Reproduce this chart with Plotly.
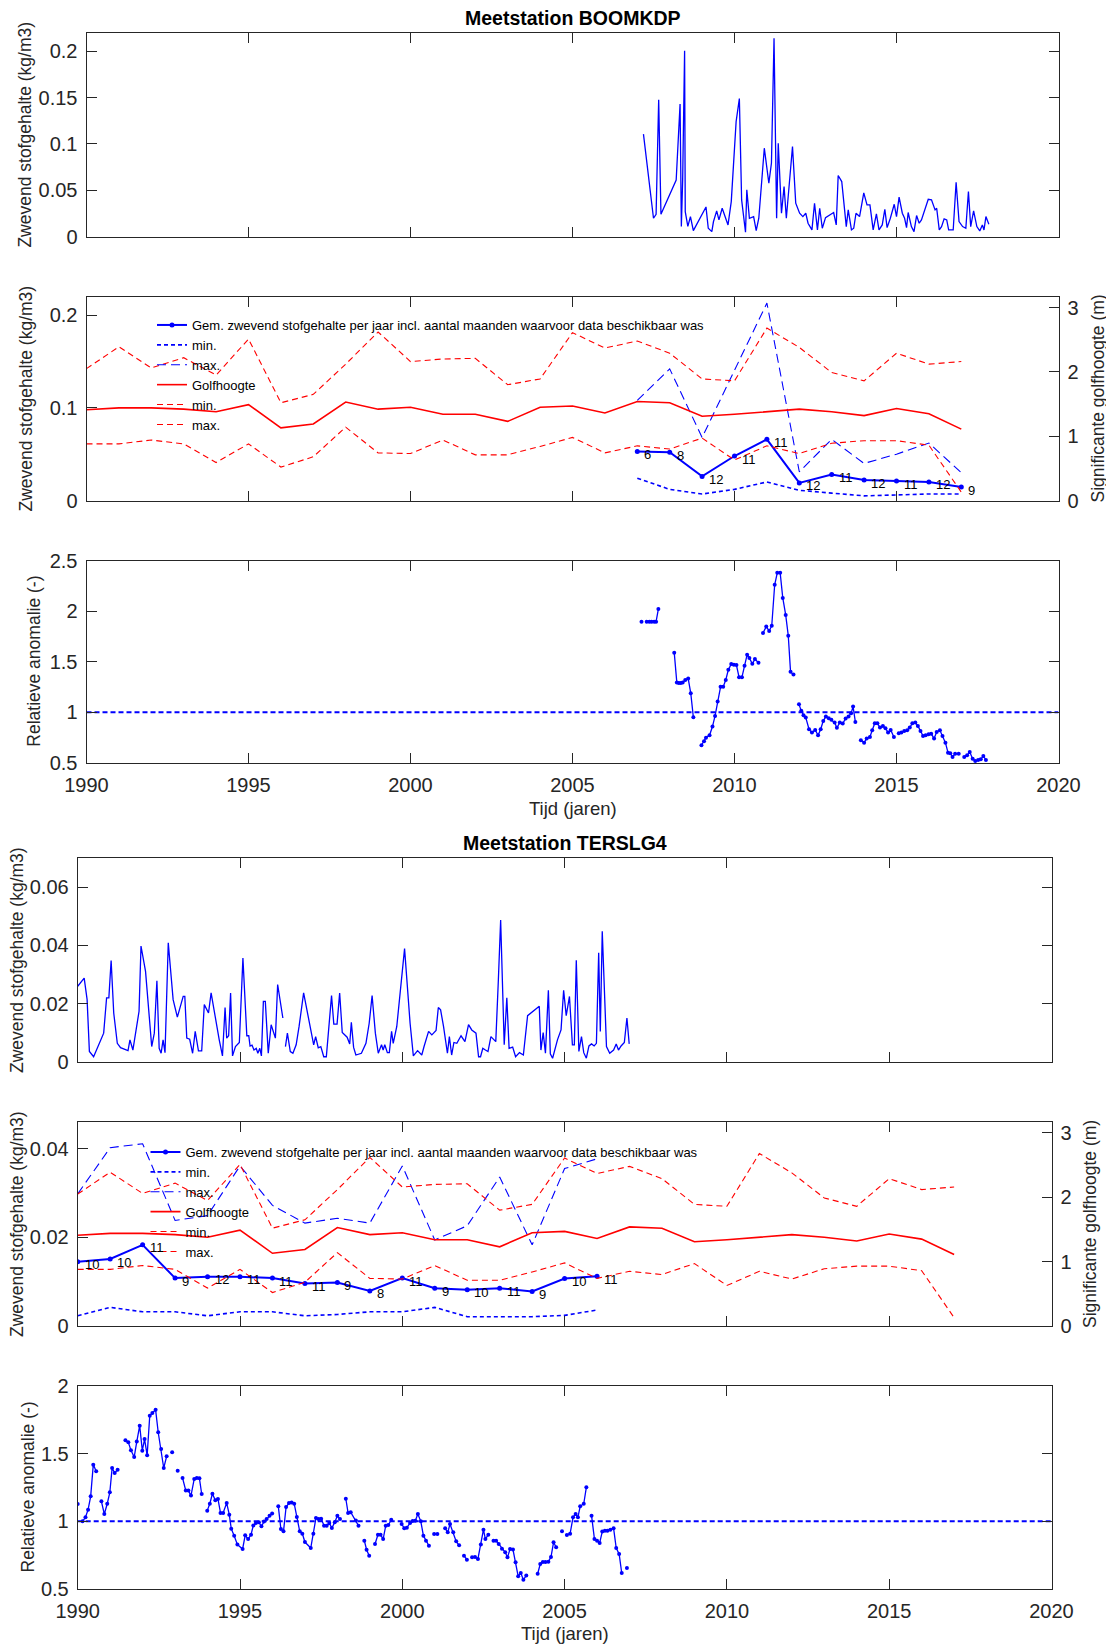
import plotly.graph_objects as go

# ---------------- DATA ----------------
# BOOMKDP: suspended sediment concentration (kg/m3), monthly
boom_ssc_t = [2007.19, 2007.50, 2007.58, 2007.66, 2007.73, 2008.20, 2008.32, 2008.36, 2008.40, 2008.46, 2008.48,
              2008.56, 2008.64, 2008.73, 2009.12, 2009.19, 2009.30, 2009.35, 2009.45, 2009.52, 2009.62, 2009.80,
              2009.90, 2010.05, 2010.15, 2010.22, 2010.34, 2010.38, 2010.46, 2010.59, 2010.67, 2010.75, 2010.92,
              2011.06, 2011.14, 2011.22, 2011.30, 2011.35, 2011.45, 2011.53, 2011.60, 2011.79, 2011.89, 2012.01,
              2012.11, 2012.20, 2012.27, 2012.39, 2012.47, 2012.56, 2012.63, 2012.71, 2012.81, 2012.94, 2013.06,
              2013.14, 2013.20, 2013.31, 2013.40, 2013.45, 2013.51, 2013.61, 2013.68, 2013.75, 2013.86, 2013.99,
              2014.09, 2014.18, 2014.28, 2014.38, 2014.46, 2014.56, 2014.64, 2014.71, 2014.81, 2014.93, 2015.00,
              2015.08, 2015.18, 2015.25, 2015.31, 2015.36, 2015.46, 2015.54, 2015.62, 2015.70, 2015.77, 2015.87,
              2015.98, 2016.08, 2016.19, 2016.24, 2016.32, 2016.39, 2016.47, 2016.55, 2016.61, 2016.75, 2016.84,
              2016.93, 2017.04, 2017.14, 2017.22, 2017.29, 2017.38, 2017.48, 2017.57, 2017.65, 2017.70, 2017.76,
              2017.85]
boom_ssc_v = [0.1105, 0.0198, 0.0240, 0.1476, 0.0240, 0.0610, 0.1430, 0.0110, 0.0610, 0.2006, 0.0270,
              0.0110, 0.0216, 0.0065, 0.0320, 0.0090, 0.0054, 0.0160, 0.0277, 0.0180, 0.0306, 0.0126,
              0.0378, 0.1240, 0.1490, 0.0396, 0.0047, 0.0504, 0.0198, 0.0216, 0.0065, 0.0198, 0.0954,
              0.0576, 0.0792, 0.2140, 0.0198, 0.1008, 0.0252, 0.0540, 0.0198, 0.0972, 0.0360, 0.0252,
              0.0216, 0.0252, 0.0144, 0.0072, 0.0360, 0.0072, 0.0306, 0.0090, 0.0205, 0.0234, 0.0260,
              0.0126, 0.0659, 0.0594, 0.0288, 0.0108, 0.0288, 0.0072, 0.0090, 0.0252, 0.0216, 0.0472,
              0.0342, 0.0342, 0.0072, 0.0245, 0.0072, 0.0126, 0.0295, 0.0097, 0.0198, 0.0349, 0.0216,
              0.0425, 0.0252, 0.0198, 0.0097, 0.0260, 0.0108, 0.0054, 0.0227, 0.0144, 0.0180, 0.0288,
              0.0403, 0.0396, 0.0288, 0.0306, 0.0072, 0.0108, 0.0191, 0.0180, 0.0072, 0.0072, 0.0587,
              0.0162, 0.0108, 0.0090, 0.0486, 0.0108, 0.0277, 0.0108, 0.0061, 0.0126, 0.0072, 0.0216,
              0.0133]

# BOOMKDP: yearly statistics
boom_years = [2007, 2008, 2009, 2010, 2011, 2012, 2013, 2014, 2015, 2016, 2017]
boom_mean = [0.053, 0.052, 0.026, 0.048, 0.066, 0.019, 0.028, 0.022, 0.021, 0.020, 0.0145]
boom_min = [0.024, 0.012, 0.007, 0.012, 0.020, 0.011, 0.008, 0.005, 0.006, 0.007, 0.007]
boom_max = [0.108, 0.142, 0.068, 0.140, 0.213, 0.031, 0.066, 0.040, 0.050, 0.062, 0.030]
boom_months = [6, 8, 12, 11, 11, 12, 11, 12, 11, 12, 9]

# Wave height (m), yearly
wave_years = list(range(1990, 2018))
wave_mean = [1.41, 1.44, 1.44, 1.42, 1.38, 1.49, 1.13, 1.19, 1.53, 1.42, 1.45, 1.34, 1.34, 1.23,
             1.45, 1.47, 1.36, 1.54, 1.52, 1.31, 1.34, 1.38, 1.42, 1.38, 1.32, 1.43, 1.35, 1.11]
wave_min = [0.88, 0.88, 0.94, 0.88, 0.59, 0.88, 0.52, 0.68, 1.14, 0.74, 0.73, 0.94, 0.71, 0.71,
            0.84, 0.98, 0.74, 0.85, 0.80, 0.97, 0.63, 0.85, 0.73, 0.89, 0.93, 0.93, 0.86, 0.13]
wave_max = [2.05, 2.39, 2.06, 2.22, 1.95, 2.51, 1.52, 1.65, 2.12, 2.62, 2.16, 2.20, 2.21, 1.80,
            1.89, 2.61, 2.37, 2.48, 2.29, 1.89, 1.86, 2.68, 2.38, 1.99, 1.86, 2.29, 2.12, 2.16]

# BOOMKDP relative anomaly (None = gap)
boom_anom_t = [2007.13, None,
               2007.29, 2007.37, 2007.44, 2007.52, 2007.58, 2007.65, None,
               2008.14, 2008.22, 2008.28, 2008.34, 2008.40, 2008.48, 2008.57, 2008.65, 2008.73, None,
               2008.98, 2009.06, 2009.12, 2009.23, 2009.32, 2009.40, 2009.48, 2009.57, 2009.65, 2009.73,
               2009.81, 2009.90, 2009.98, 2010.06, 2010.14, 2010.23, 2010.31, 2010.39, 2010.46, 2010.55,
               2010.63, 2010.74, None,
               2010.88, 2010.98, 2011.07, 2011.15, 2011.24, 2011.32, 2011.41, 2011.49, 2011.58, 2011.66,
               2011.73, 2011.82, None,
               2011.99, 2012.06, 2012.13, 2012.20, 2012.30, 2012.39, 2012.49, 2012.58, 2012.66, 2012.74,
               2012.82, 2012.91, 2012.99, 2013.09, 2013.16, 2013.25, 2013.34, 2013.43, 2013.52, 2013.60,
               2013.66, 2013.73, None,
               2013.90, 2014.00, 2014.08, 2014.18, 2014.25, 2014.33, 2014.41, 2014.49, 2014.58, 2014.66,
               2014.74, 2014.82, 2014.92, None,
               2015.07, 2015.15, 2015.24, 2015.33, 2015.41, 2015.49, 2015.58, 2015.66, 2015.74, 2015.82,
               2015.90, 2015.99, 2016.07, 2016.16, 2016.24, 2016.34, 2016.42, 2016.51, 2016.59, 2016.66,
               2016.73, 2016.81, 2016.92, None,
               2017.09, 2017.18, 2017.26, 2017.35, 2017.43, 2017.52, 2017.60, 2017.68, 2017.76]
boom_anom_v = [1.896, None,
               1.896, 1.896, 1.896, 1.896, 1.896, 2.020, None,
               1.590, 1.295, 1.289, 1.289, 1.295, 1.320, 1.335, 1.190, 0.952, None,
               0.675, 0.715, 0.750, 0.774, 0.860, 0.965, 1.107, 1.252, 1.252, 1.320,
               1.420, 1.477, 1.470, 1.467, 1.348, 1.348, 1.460, 1.570, 1.536, 1.480,
               1.526, 1.490, None,
               1.784, 1.847, 1.804, 1.856, 2.260, 2.378, 2.378, 2.130, 1.962, 1.757,
               1.400, 1.375, None,
               1.081, 1.015, 0.972, 0.949, 0.833, 0.800, 0.826, 0.774, 0.833, 0.916,
               0.959, 0.942, 0.926, 0.900, 0.847, 0.900, 0.890, 0.939, 0.959, 0.992,
               1.058, 0.906, None,
               0.724, 0.701, 0.741, 0.757, 0.823, 0.893, 0.893, 0.850, 0.866, 0.843,
               0.800, 0.827, 0.757, None,
               0.794, 0.800, 0.817, 0.823, 0.850, 0.893, 0.900, 0.866, 0.817, 0.767,
               0.774, 0.784, 0.790, 0.741, 0.807, 0.823, 0.767, 0.701, 0.602, 0.596,
               0.559, 0.592, 0.592, None,
               0.559, 0.576, 0.609, 0.543, 0.520, 0.530, 0.536, 0.569, 0.530]

# TERSLG4: suspended sediment concentration (kg/m3), monthly (None = gap)
ters_ssc_t = [1990.00, 1990.20, 1990.29, 1990.36, 1990.49, 1990.80, 1990.89, 1990.96, 1991.03, 1991.11,
              1991.22, 1991.32, 1991.55, 1991.61, 1991.70, 1991.89, 1991.95, 1992.09, 1992.28, 1992.36,
              1992.44, 1992.51, 1992.57, 1992.63, 1992.69, 1992.79, 1992.94, 1993.07, 1993.25, 1993.30,
              1993.36, 1993.45, 1993.54, 1993.62, 1993.72, 1993.82, 1993.90, 1994.03, 1994.11, 1994.26,
              1994.36, 1994.46, 1994.54, 1994.59, 1994.65, 1994.71, 1994.77, 1994.86, 1994.98, 1995.09,
              1995.21, 1995.27, 1995.31, 1995.37, 1995.43, 1995.50, 1995.55, 1995.61, 1995.66, 1995.72,
              1995.78, 1995.87, 1995.96, 1996.09, 1996.16, 1996.32, None,
              1996.40, 1996.46, 1996.55, 1996.63, 1996.73, 1996.82, 1996.96, 1997.12, 1997.27, 1997.33,
              1997.41, 1997.49, 1997.58, 1997.66, 1997.74, 1997.82, 1997.89, 1997.99, 1998.07, 1998.15,
              1998.30, 1998.38, 1998.43, 1998.50, 1998.57, 1998.74, 1998.88, 1998.98, 1999.07, 1999.17,
              1999.26, 1999.36, 1999.41, 1999.46, 1999.54, 1999.60, 1999.67, 1999.72, 1999.83, 2000.07,
              2000.24, 2000.34, 2000.47, 2000.60, 2000.67, 2000.81, 2000.91, 2001.04, 2001.11, 2001.18,
              2001.27, 2001.39, 2001.45, 2001.52, 2001.59, 2001.68, 2001.81, 2001.93, 2002.04, 2002.14,
              2002.27, 2002.35, 2002.41, 2002.48, 2002.56, 2002.64, 2002.73, 2002.81, 2002.88, 2002.96,
              2003.03, 2003.14, 2003.22, 2003.29, 2003.40, 2003.49, 2003.61, 2003.73, 2003.86, 2004.22,
              2004.27, 2004.34, 2004.41, 2004.50, 2004.56, 2004.63, 2004.78, 2004.89, 2004.97, 2005.05,
              2005.15, 2005.24, 2005.30, 2005.36, 2005.44, 2005.52, 2005.59, 2005.67, 2005.75, 2005.83,
              2005.91, 2005.98, 2006.05, 2006.10, 2006.16, 2006.29, 2006.39, 2006.51, 2006.59, 2006.66,
              2006.74, 2006.84, 2006.92, 2006.99]
ters_ssc_v = [0.0260, 0.0288, 0.0214, 0.0036, 0.0018, 0.0099, 0.0220, 0.0220, 0.0348, 0.0168,
              0.0064, 0.0049, 0.0039, 0.0076, 0.0041, 0.0174, 0.0398, 0.0311, 0.0053, 0.0099,
              0.0279, 0.0047, 0.0030, 0.0076, 0.0032, 0.0409, 0.0214, 0.0154, 0.0225, 0.0225,
              0.0082, 0.0078, 0.0030, 0.0105, 0.0038, 0.0038, 0.0197, 0.0168, 0.0237, 0.0133,
              0.0076, 0.0021, 0.0187, 0.0082, 0.0090, 0.0237, 0.0021, 0.0053, 0.0067, 0.0357,
              0.0090, 0.0090, 0.0055, 0.0058, 0.0041, 0.0047, 0.0030, 0.0047, 0.0021, 0.0208,
              0.0208, 0.0030, 0.0128, 0.0082, 0.0266, 0.0151, None,
              0.0053, 0.0099, 0.0036, 0.0030, 0.0059, 0.0122, 0.0237, 0.0140, 0.0059, 0.0087,
              0.0049, 0.0053, 0.0018, 0.0018, 0.0122, 0.0228, 0.0130, 0.0130, 0.0237, 0.0101,
              0.0085, 0.0062, 0.0136, 0.0050, 0.0024, 0.0030, 0.0064, 0.0133, 0.0228, 0.0099,
              0.0030, 0.0059, 0.0041, 0.0059, 0.0032, 0.0032, 0.0105, 0.0064, 0.0122, 0.0389,
              0.0133, 0.0021, 0.0039, 0.0024, 0.0053, 0.0105, 0.0093, 0.0108, 0.0187, 0.0179,
              0.0122, 0.0030, 0.0087, 0.0024, 0.0067, 0.0064, 0.0090, 0.0070, 0.0128, 0.0110,
              0.0099, 0.0018, 0.0018, 0.0047, 0.0041, 0.0036, 0.0087, 0.0078, 0.0070, 0.0283,
              0.0487, 0.0059, 0.0220, 0.0047, 0.0051, 0.0018, 0.0032, 0.0024, 0.0159, 0.0191,
              0.0041, 0.0101, 0.0030, 0.0246, 0.0028, 0.0013, 0.0076, 0.0110, 0.0246, 0.0159,
              0.0225, 0.0059, 0.0059, 0.0349, 0.0036, 0.0087, 0.0032, 0.0013, 0.0055, 0.0062,
              0.0055, 0.0064, 0.0375, 0.0105, 0.0449, 0.0053, 0.0030, 0.0041, 0.0062, 0.0041,
              0.0055, 0.0067, 0.0151, 0.0062]

# TERSLG4: yearly statistics
ters_years = list(range(1990, 2007))
ters_mean = [0.0145, 0.0151, 0.0183, 0.0108, 0.0111, 0.0111, 0.0108, 0.0096, 0.0098, 0.0079,
             0.0108, 0.0085, 0.0082, 0.0085, 0.0078, 0.0107, 0.0112]
ters_min = [0.0023, 0.0042, 0.0032, 0.0032, 0.0023, 0.0032, 0.0032, 0.0023, 0.0026, 0.0032,
            0.0032, 0.0042, 0.0021, 0.0021, 0.0021, 0.0024, 0.0036]
ters_max = [0.0298, 0.0402, 0.0411, 0.0238, 0.0249, 0.0361, 0.0272, 0.0232, 0.0243, 0.0232,
            0.0361, 0.0194, 0.0226, 0.0336, 0.0183, 0.0355, 0.0377]
ters_months = [10, 10, 11, 9, 12, 11, 11, 11, 9, 8, 11, 9, 10, 11, 9, 10, 11]

# TERSLG4 relative anomaly (None = gap)
ters_anom_t = [1990.00, None,
               1990.15, 1990.24, 1990.32, 1990.40, 1990.48, 1990.57, None,
               1990.73, 1990.82, 1990.91, 1990.99, 1991.06, 1991.14, 1991.23, None,
               1991.47, 1991.56, 1991.64, 1991.74, 1991.82, 1991.91, 1991.99, 1992.06, 1992.14, 1992.22,
               1992.30, 1992.40, 1992.48, 1992.57, 1992.65, 1992.74, None,
               1992.91, None,
               1993.08, None,
               1993.23, 1993.33, 1993.41, 1993.49, 1993.59, 1993.67, 1993.75, 1993.82, None,
               1993.99, 1994.07, 1994.15, 1994.24, 1994.32, 1994.40, 1994.48, 1994.59, 1994.67, 1994.73,
               1994.82, 1994.92, 1995.08, 1995.16, 1995.25, 1995.34, 1995.41, 1995.49, 1995.58, 1995.66,
               1995.74, 1995.82, 1995.91, 1995.99, None,
               1996.18, 1996.26, 1996.34, 1996.42, 1996.51, 1996.59, 1996.67, 1996.75, 1996.84, 1996.92,
               1997.00, 1997.18, 1997.26, 1997.34, 1997.42, 1997.50, 1997.59, 1997.67, 1997.75, 1997.83,
               1997.92, 1998.00, 1998.08, None,
               1998.26, 1998.33, 1998.41, 1998.57, 1998.65, None,
               1998.83, 1998.90, 1998.98, None,
               1999.16, 1999.25, 1999.33, 1999.41, 1999.49, 1999.57, 1999.66, None,
               1999.98, 2000.06, 2000.14, 2000.24, 2000.32, 2000.40, 2000.48, 2000.57, 2000.65, 2000.73,
               2000.82, None,
               2000.98, 2001.08, None,
               2001.32, 2001.40, 2001.47, 2001.57, 2001.66, 2001.75, None,
               2001.90, 2001.99, None,
               2002.15, 2002.24, 2002.33, 2002.42, 2002.50, 2002.56, 2002.65, None,
               2002.81, 2002.89, 2002.97, 2003.07, 2003.17, 2003.24, 2003.32, 2003.41, 2003.49, 2003.57,
               2003.65, 2003.73, 2003.82, None,
               2004.17, 2004.25, 2004.33, 2004.41, 2004.50, 2004.58, 2004.66, 2004.74, None,
               2004.92, None,
               2005.07, 2005.17, 2005.26, 2005.34, 2005.41, 2005.48, 2005.59, 2005.67, None,
               2005.83, 2005.92, 2006.00, 2006.08, 2006.16, 2006.24, 2006.32, 2006.41, 2006.51, 2006.59,
               2006.68, 2006.76, None,
               2006.92]
ters_anom_v = [1.128, None,
               1.000, 1.030, 1.086, 1.185, 1.419, 1.370, None,
               1.148, 1.054, 1.130, 1.214, 1.394, 1.357, 1.382, None,
               1.600, 1.584, 1.525, 1.475, 1.589, 1.707, 1.522, 1.608, 1.488, 1.781,
               1.800, 1.825, 1.658, 1.534, 1.394, 1.480, None,
               1.510, None,
               1.374, None,
               1.320, 1.227, 1.227, 1.190, 1.313, 1.320, 1.318, 1.202, None,
               1.079, 1.130, 1.204, 1.155, 1.165, 1.062, 1.062, 1.135, 1.049, 0.946,
               0.894, 0.828, 0.796, 0.897, 0.869, 0.901, 0.970, 0.988, 0.993, 0.963,
               0.998, 1.017, 1.042, 1.057, None,
               1.111, 0.943, 0.926, 1.106, 1.135, 1.140, 1.130, 1.032, 0.926, 0.909,
               0.847, 0.803, 0.909, 1.025, 1.017, 1.020, 0.968, 0.968, 0.988, 0.951,
               0.993, 1.042, 1.017, None,
               1.167, 1.062, 1.067, 1.007, 0.968, None,
               0.857, 0.790, 0.746, None,
               0.833, 0.901, 0.901, 0.869, 0.968, 0.973, 1.012, None,
               0.980, 0.948, 0.953, 0.988, 1.002, 1.005, 1.054, 1.000, 0.894, 0.857,
               0.820, None,
               0.906, 0.906, None,
               0.948, 0.919, 0.980, 0.919, 0.852, 0.823, None,
               0.746, 0.717, None,
               0.734, 0.736, 0.722, 0.828, 0.938, 0.869, 0.901, None,
               0.857, 0.857, 0.833, 0.798, 0.771, 0.734, 0.796, 0.791, 0.697, 0.594,
               0.618, 0.569, 0.599, None,
               0.613, 0.685, 0.700, 0.700, 0.702, 0.736, 0.845, 0.808, None,
               0.926, None,
               0.899, 0.909, 1.030, 1.054, 1.030, 1.111, 1.130, 1.251, None,
               1.042, 0.869, 0.857, 0.840, 0.924, 0.931, 0.931, 0.938, 0.948, 0.803,
               0.759, 0.618, None,
               0.655]

# reference level for the anomaly panels and the time axis extent
anom_ref_x = [1990, 2020]
anom_ref_y = [1.0, 1.0]
year_ticks = [1990, 1995, 2000, 2005, 2010, 2015, 2020]

legend_names = ["Gem. zwevend stofgehalte per jaar incl. aantal maanden waarvoor data beschikbaar was",
                "min.", "max.", "Golfhoogte", "min.", "max."]

# ---------------- STYLE ----------------
W, H = 1106, 1644
BLUE = "#0000FF"
RED = "#FF0000"
AX = "#262626"
FONT = "Liberation Sans, Arial, sans-serif"
TICK = 20
LAB = 17.5


def py(px_top, px_bot):
    return [1 - px_bot / H, 1 - px_top / H]


top_xdom = [86.5 / W, 1058.5 / W]
bot_xdom = [77.7 / W, 1051.5 / W]
panels_y = [py(32.7, 236.6), py(296.6, 500.5), py(560.5, 763.0),
            py(858.0, 1062.0), py(1122.0, 1326.0), py(1386.0, 1589.0)]

fig = go.Figure()

# Panel 1
fig.add_trace(go.Scatter(x=boom_ssc_t, y=boom_ssc_v, mode="lines", xaxis="x", yaxis="y",
                         line=dict(color=BLUE, width=1.3), showlegend=False))

# Panel 2
fig.add_trace(go.Scatter(x=boom_years, y=boom_mean, mode="lines+markers", xaxis="x2", yaxis="y2",
                         name=legend_names[0], legend="legend",
                         line=dict(color=BLUE, width=2), marker=dict(size=5, color=BLUE)))
fig.add_trace(go.Scatter(x=boom_years, y=boom_min, mode="lines", xaxis="x2", yaxis="y2",
                         name=legend_names[1], legend="legend",
                         line=dict(color=BLUE, width=1.6, dash="4px,3px")))
fig.add_trace(go.Scatter(x=boom_years, y=boom_max, mode="lines", xaxis="x2", yaxis="y2",
                         name=legend_names[2], legend="legend",
                         line=dict(color=BLUE, width=1.1, dash="9px,5px")))
fig.add_trace(go.Scatter(x=wave_years, y=wave_mean, mode="lines", xaxis="x2", yaxis="y7",
                         name=legend_names[3], legend="legend",
                         line=dict(color=RED, width=1.6)))
fig.add_trace(go.Scatter(x=wave_years, y=wave_min, mode="lines", xaxis="x2", yaxis="y7",
                         name=legend_names[4], legend="legend",
                         line=dict(color=RED, width=1.1, dash="6px,4px")))
fig.add_trace(go.Scatter(x=wave_years, y=wave_max, mode="lines", xaxis="x2", yaxis="y7",
                         name=legend_names[5], legend="legend",
                         line=dict(color=RED, width=1.1, dash="6px,4px")))

# Panel 3
fig.add_trace(go.Scatter(x=anom_ref_x, y=anom_ref_y, mode="lines", xaxis="x3", yaxis="y3",
                         line=dict(color=BLUE, width=2, dash="5px,3px"), showlegend=False))
fig.add_trace(go.Scatter(x=boom_anom_t, y=boom_anom_v, mode="lines+markers", xaxis="x3", yaxis="y3",
                         line=dict(color=BLUE, width=1.3), marker=dict(size=4, color=BLUE),
                         showlegend=False))

# Panel 4
fig.add_trace(go.Scatter(x=ters_ssc_t, y=ters_ssc_v, mode="lines", xaxis="x4", yaxis="y4",
                         line=dict(color=BLUE, width=1.3), showlegend=False))

# Panel 5
fig.add_trace(go.Scatter(x=ters_years, y=ters_mean, mode="lines+markers", xaxis="x5", yaxis="y5",
                         name=legend_names[0], legend="legend2",
                         line=dict(color=BLUE, width=2), marker=dict(size=5, color=BLUE)))
fig.add_trace(go.Scatter(x=ters_years, y=ters_min, mode="lines", xaxis="x5", yaxis="y5",
                         name=legend_names[1], legend="legend2",
                         line=dict(color=BLUE, width=1.6, dash="4px,3px")))
fig.add_trace(go.Scatter(x=ters_years, y=ters_max, mode="lines", xaxis="x5", yaxis="y5",
                         name=legend_names[2], legend="legend2",
                         line=dict(color=BLUE, width=1.1, dash="9px,5px")))
fig.add_trace(go.Scatter(x=wave_years, y=wave_mean, mode="lines", xaxis="x5", yaxis="y8",
                         name=legend_names[3], legend="legend2",
                         line=dict(color=RED, width=1.6)))
fig.add_trace(go.Scatter(x=wave_years, y=wave_min, mode="lines", xaxis="x5", yaxis="y8",
                         name=legend_names[4], legend="legend2",
                         line=dict(color=RED, width=1.1, dash="6px,4px")))
fig.add_trace(go.Scatter(x=wave_years, y=wave_max, mode="lines", xaxis="x5", yaxis="y8",
                         name=legend_names[5], legend="legend2",
                         line=dict(color=RED, width=1.1, dash="6px,4px")))

# Panel 6
fig.add_trace(go.Scatter(x=anom_ref_x, y=anom_ref_y, mode="lines", xaxis="x6", yaxis="y6",
                         line=dict(color=BLUE, width=2, dash="5px,3px"), showlegend=False))
fig.add_trace(go.Scatter(x=ters_anom_t, y=ters_anom_v, mode="lines+markers", xaxis="x6", yaxis="y6",
                         line=dict(color=BLUE, width=1.3), marker=dict(size=4, color=BLUE),
                         showlegend=False))


def xax(dom, anchor, labels):
    return dict(domain=dom, anchor=anchor, range=[1990, 2020], tickmode="array", tickvals=year_ticks,
                showticklabels=labels, ticks="inside", ticklen=10, tickwidth=1, tickcolor=AX,
                showline=True, linecolor=AX, linewidth=1, mirror="ticks", showgrid=False,
                zeroline=False, automargin=False,
                tickfont=dict(size=TICK, color=AX, family=FONT), ticklabelstandoff=4)


def yax(dom, anchor, rng, tickvals, mirror="ticks", side="left", overlaying=None):
    d = dict(domain=dom, anchor=anchor, range=rng, tickmode="array", tickvals=tickvals,
             ticks="inside", ticklen=10, tickwidth=1, tickcolor=AX, showline=True, linecolor=AX,
             linewidth=1, mirror=mirror, side=side, showgrid=False, zeroline=False, automargin=False,
             tickfont=dict(size=TICK, color=AX, family=FONT), ticklabelstandoff=4)
    if overlaying:
        d["overlaying"] = overlaying
    return d


layout = dict(
    width=W, height=H, margin=dict(l=0, r=0, t=0, b=0, autoexpand=False),
    paper_bgcolor="white", plot_bgcolor="white",
    font=dict(family=FONT, color=AX),
    xaxis=xax(top_xdom, "y", False),
    xaxis2=xax(top_xdom, "y2", False),
    xaxis3=xax(top_xdom, "y3", True),
    xaxis4=xax(bot_xdom, "y4", False),
    xaxis5=xax(bot_xdom, "y5", False),
    xaxis6=xax(bot_xdom, "y6", True),
    yaxis=yax(panels_y[0], "x", [0, 0.22], [0, 0.05, 0.1, 0.15, 0.2]),
    yaxis2=yax(panels_y[1], "x2", [0, 0.22], [0, 0.1, 0.2], mirror=False),
    yaxis3=yax(panels_y[2], "x3", [0.5, 2.5], [0.5, 1, 1.5, 2, 2.5]),
    yaxis4=yax(panels_y[3], "x4", [0, 0.07], [0, 0.02, 0.04, 0.06]),
    yaxis5=yax(panels_y[4], "x5", [0, 0.046], [0, 0.02, 0.04], mirror=False),
    yaxis6=yax(panels_y[5], "x6", [0.5, 2], [0.5, 1, 1.5, 2]),
    yaxis7=yax(panels_y[1], "x2", [0, 3.17], [0, 1, 2, 3], mirror=False, side="right", overlaying="y2"),
    yaxis8=yax(panels_y[4], "x5", [0, 3.17], [0, 1, 2, 3], mirror=False, side="right", overlaying="y5"),
    legend=dict(x=152 / W, y=1 - 310 / H, xanchor="left", yanchor="top", bgcolor="rgba(0,0,0,0)",
                borderwidth=0, font=dict(size=13, color="#000000", family=FONT), tracegroupgap=0),
    legend2=dict(x=145.5 / W, y=1 - 1137 / H, xanchor="left", yanchor="top", bgcolor="rgba(0,0,0,0)",
                 borderwidth=0, font=dict(size=13, color="#000000", family=FONT), tracegroupgap=0),
)

annotations = []
# month-count labels next to yearly means
for xv, yv, n in zip(boom_years, boom_mean, boom_months):
    annotations.append(dict(x=xv, y=yv, xref="x2", yref="y2", text=str(n), showarrow=False,
                            xanchor="left", yanchor="middle", xshift=5, yshift=-3,
                            font=dict(size=13, color="#000000", family=FONT)))
for xv, yv, n in zip(ters_years, ters_mean, ters_months):
    annotations.append(dict(x=xv, y=yv, xref="x5", yref="y5", text=str(n), showarrow=False,
                            xanchor="left", yanchor="middle", xshift=5, yshift=-3,
                            font=dict(size=13, color="#000000", family=FONT)))


def txt(text, xpx, ypx, size, angle=0, bold=False):
    return dict(x=xpx / W, y=1 - ypx / H, xref="paper", yref="paper", showarrow=False,
                text=f"<b>{text}</b>" if bold else text, textangle=angle,
                xanchor="center", yanchor="middle",
                font=dict(size=size, color="#000000" if bold else AX, family=FONT))


ylab_ssc = "Zwevend stofgehalte (kg/m3)"
ylab_anom = "Relatieve anomalie (-)"
ylab_wave = "Significante golfhoogte (m)"
annotations += [
    txt("Meetstation BOOMKDP", 573, 17.8, 19.5, bold=True),
    txt("Meetstation TERSLG4", 565, 843, 19.5, bold=True),
    txt("Tijd (jaren)", 572.5, 808, 18.5),
    txt("Tijd (jaren)", 564.6, 1633, 18.5),
    txt(ylab_ssc, 25, 134.6, LAB, angle=-90),
    txt(ylab_ssc, 25, 398.5, LAB, angle=-90),
    txt(ylab_anom, 34, 661.7, LAB, angle=-90),
    txt(ylab_ssc, 17, 960, LAB, angle=-90),
    txt(ylab_ssc, 17, 1224, LAB, angle=-90),
    txt(ylab_anom, 27, 1487.5, LAB, angle=-90),
    txt(ylab_wave, 1097, 398.5, LAB, angle=-90),
    txt(ylab_wave, 1090, 1224, LAB, angle=-90),
]
layout["annotations"] = annotations

fig.update_layout(**layout)
fig.write_html("out.html")
